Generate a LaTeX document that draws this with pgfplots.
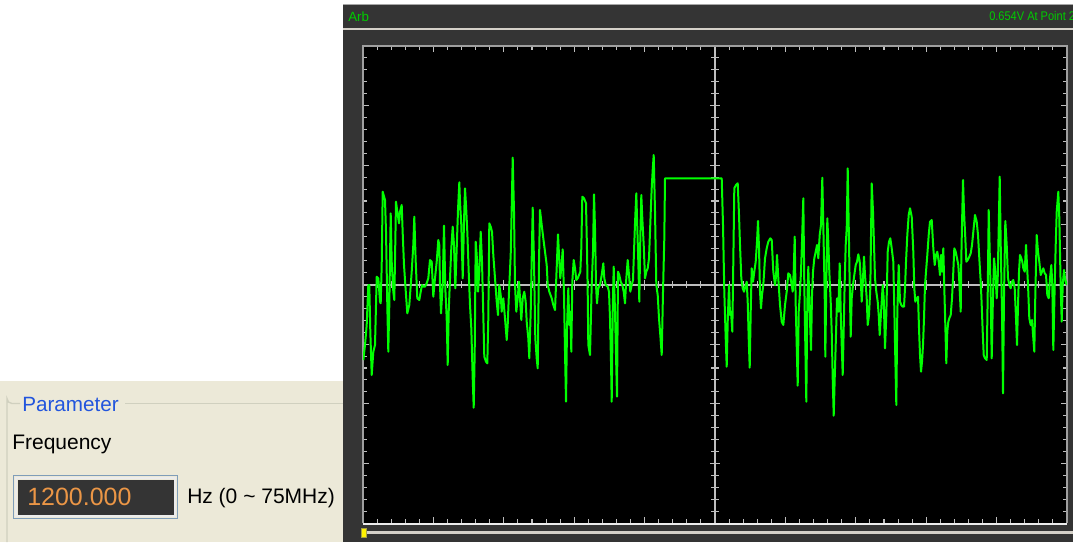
\documentclass[border=0pt]{standalone}
\usepackage{pgfplots}
\pgfplotsset{compat=1.18}
\usepackage{fontspec}
\setmainfont{Liberation Sans}
\definecolor{frame}{RGB}{52,52,52}
\definecolor{beige}{RGB}{236,233,216}
\definecolor{sep}{RGB}{212,208,200}
\definecolor{tickc}{RGB}{190,190,190}
\definecolor{wave}{RGB}{0,255,0}
\definecolor{hdr}{RGB}{0,205,0}
\definecolor{pblue}{RGB}{34,85,221}
\definecolor{boxblue}{RGB}{127,157,185}
\definecolor{orng}{RGB}{235,150,70}
\definecolor{gbox}{RGB}{208,208,191}
\pgfplotstableread{
x y
363.3 360
365 345
366.7 325
368.3 285
369.3 285
370.3 331.7
371.7 375
373.3 351.7
375 345
376.7 276.7
378.3 278.3
380 301.7
380.7 303.3
381.7 265
382.7 191.7
385 200
386 231.7
387.3 305
388.3 351.7
389.3 305
390.7 213.3
391.7 261.7
393.3 291.7
394.3 300
396 201.7
397.3 211.7
399 223.3
400 211.7
401.7 205
402.7 233.3
404 265
406 295
407.3 313.3
409.3 305
411.7 271.7
413.3 245
414.3 216.7
415.7 261.7
417.3 298.3
419.3 300
420.7 291.7
422 285
423.3 286.7
425 286.7
426.7 283.3
428.3 278.3
430 260
431.7 261.7
433.3 296.7
435 278.3
436.7 261.7
438.3 240
439.3 245
440 285
441 313.3
442.7 285
444 225.7
445.3 288.3
446.7 318.3
447.7 365
448.7 311.7
450 278.3
451.3 248.3
452.7 226.7
454 245
455.3 288.3
456.7 248.3
458 210
459.3 182.3
460 201.7
461.3 225
462.7 278.3
464 221.7
465 188.3
466 205
467.3 231.7
468.7 271.7
470 305
471.3 328.3
472.7 378.3
473.7 407.7
474.7 351.7
475.7 241.7
476.7 255
478 291.7
479.3 271.7
480.7 231.7
482 261.7
483.3 315
484.3 356.7
486 361.7
487.3 363.3
488.3 318.3
489.3 223.3
490.7 226.7
492 231.7
493.3 255
495 278.3
496.7 301.7
498 315
499.3 285
500.7 295
501.7 311.7
503.3 298.3
505 318.3
506.7 340
507.7 325
509 291.7
510.7 255
511.7 208.3
512.7 157.7
514 211.7
515 285
516.3 311.7
517.7 298.3
519 281.7
520 298.3
521.3 320
522.7 298.3
524.3 291.7
525.7 301.7
526.7 321.7
528.3 338.3
529.3 358.3
530.7 311.7
531.7 258.3
532.7 207.7
534 261.7
535.3 338.3
536.7 358.3
537.7 368.3
539 261.7
540 210
541.7 225
543.3 238.3
545 251.7
546.7 265
547.7 285
549.3 291.7
551.7 298.3
553.3 305
555 310
556 285
557 260
558 234.3
559 255
560.3 278.3
561.7 263.3
562.7 249.3
564 295
565 351.7
566 401.7
567 328.3
568.3 288.3
569.3 325
570.3 311.7
571.3 351.7
572.3 281.7
573.7 260
575 268.3
576.3 280
577.7 278.3
579 275
580.3 271.7
581.3 248.3
582.3 196.7
584 198.3
586 203.3
587 250
587.7 291.7
588.3 345
590 355
591.7 285
593 251.7
594 194.3
595 228.3
596 285
597 303.3
598.3 288.3
600 285
601.7 275
603.3 263.3
604.3 278.3
605.7 285
607.7 286.7
609 291.7
610 318.3
611 361.7
611.7 401.7
612.7 311.7
613.7 266.7
615 311.7
616 355
617 396.7
618 271.7
619.3 275
620.7 281.7
622.3 285
623.7 291.7
625 303.3
626.3 278.3
627.7 260
629 275
630.3 291.7
631.7 285
633 280
634 251.7
635 223.3
636.3 193.3
637.3 228.3
638.3 261.7
639.3 301.7
640.3 238.3
641.3 195
642.3 218.3
643.7 245
645 278.3
646.3 271.7
647.7 268.3
649 258.3
650 231.7
651 205
651.7 188.3
652.7 170
653.7 155
655 211.7
656.3 285
657.7 295
659 318.3
660.3 335
661.7 355
663 291.7
664.3 238.3
665 178.3
721.7 178.3
723 225
724.3 291.7
725.7 338.3
726.7 366.7
727.7 321.7
729 285
730 315
731 311.7
732.3 331.7
733.3 261.7
734.3 188.3
736 185
737.7 183.3
739 215
740 245
741.3 278.3
742.7 288.3
744 291.7
745.3 286.7
746.7 281.7
747.7 301.7
748.7 338.3
749.7 367.7
750.7 311.7
751.7 268.3
753 281.7
754.3 271.7
755.7 261.7
757 241.7
758 221
759 248.3
760 291.7
761 308.3
762 295
763.3 285
765 258.3
766.7 248.3
768.3 241.7
770.3 238.3
771.7 240
773.3 271.7
775 285
776 276.7
777 255
778.3 278.3
780 305
781.7 321.7
783.3 325
785 305
786.7 291.7
788.3 273.3
790 275
791.7 285
792.7 291.7
793.7 271.7
794.7 236.7
795.7 305
796.7 345
797.7 385.7
798.7 311.7
800 291.7
801 271.7
802 241.7
803.3 198.3
804.3 285
805.3 345
806.3 401.7
807.3 305
808.3 266.7
809.7 311.7
811 350
812 295
813 271.7
814.3 258.3
815.7 251.7
817 245
818.3 258.3
819.7 235
821 225
822.3 177.7
823.7 245
824.7 295
825.3 356.7
826.3 285
827.3 218.3
828.3 241.7
829.3 271.7
830.7 301.7
831.7 331.7
832.7 378.3
833.7 415.7
834.7 378.3
835.7 345
837 298.3
838.3 311.7
839.7 263.3
840.7 311.7
841.7 345
842.7 375
843.7 328.3
844.7 281.7
845.7 245
846.7 228.3
847.7 168.3
848.7 225
849.7 285
850.7 336.7
851.7 298.3
853 285
854.3 275
855.7 265
857 261.7
858.3 254.3
859.7 261.7
860.7 278.3
861.7 301.7
863 278.3
864 256.7
865 275
866.7 298.3
867.7 325
869 315
870.3 288.3
871.7 183.3
873 211.7
874 245
875 278.3
876.3 291.7
877.7 301.7
878.7 315
879.7 335
880.7 318.3
881.7 301.7
882.7 285
883.7 298.3
885 348.3
886.3 315
887.7 251.7
889 241.7
890.3 238.3
891.7 248.3
893.3 261.7
894.3 308.3
895.3 358.3
896.3 405
897.3 311.7
898.7 265
900 301.7
901.3 305
902.7 306.7
904 306.7
905 288.3
906 261.7
907.3 235
908.7 215
910 208.3
911.7 216.7
913.3 251.7
914.3 288.3
915.3 301.7
916.7 298.3
918 296.7
919 328.3
920 355
921 371.7
922 361.7
923 345
924 318.3
925 285
926 271.7
927.3 255
928.7 235
930 221.7
931.7 220
933.3 248.3
934.7 265
936 255
937.3 251.7
938.7 261.7
940 275
941 255
942 271.7
943.3 248.3
944.3 288.3
945.3 325
946.3 363.3
947.3 331.7
948.3 321.7
949.3 318.3
950.7 315
952 298.3
953 278.3
954.3 248.3
955.7 251.7
957 258.3
958.3 265
959.3 281.7
960.7 311.7
961.3 258.3
962 225
963 180
964 211.7
965.3 238.3
966.3 261.7
967.7 260
969.3 256.7
970.7 253.3
972 245
973.3 231.7
975 215
976.7 221.7
978 235
979.3 258.3
980.7 281.7
981.7 305
982.7 331.7
983.7 355
985 358.3
986.7 360
987.7 295
988.7 210
989.7 251.7
990.7 295
991.7 358.3
992.7 308.3
994 258.3
995.3 271.7
996.7 298.3
997.7 278.3
998.7 228.3
999.7 176.7
1000.7 245
1002 311.7
1003 393.3
1004 295
1005.3 221
1006.7 245
1008 278.3
1009.3 285
1010.7 288.3
1012 281.7
1013.3 280
1014.7 288.3
1016 318.3
1017 345
1018 305
1019 271.7
1020 255
1021.3 258.3
1022.3 261.7
1023.3 268.3
1024.7 271.7
1026 245
1027 265
1028 285
1029.3 318.3
1030.7 325
1032 320
1033.3 338.3
1034.3 351.7
1035.3 295
1036.7 235
1038 251.7
1039.3 261.7
1040.7 275
1042 271.7
1043.3 268.3
1044.7 273.3
1046 275
1047.3 295
1048.7 298.3
1050 278.3
1051.3 265
1052.3 285
1053.3 350
1054.7 285
1055.7 245
1056.7 211.7
1058.3 191.7
1059.3 218.3
1060.7 288.3
1061.7 321.7
1062.7 285
1064 270
1065 278.3
1066.7 285
}\wavetable
\begin{document}
\begin{tikzpicture}
\clip (0pt,0pt) rectangle (804.75pt,-406.5pt);
\begin{scope}[x=0.75pt,y=-0.75pt]
  % backgrounds
  \fill[white] (0,0) rectangle (1073,542);
  \fill[beige] (0,381) rectangle (343,542);
  \fill[frame] (343,4) rectangle (1073,542);
  \draw[gray!70, line width=1pt] (343,4.5) -- (1073,4.5);
  \draw[sep, line width=1.5pt] (343,29.5) -- (1073,29.5);
  % header texts
  \node[anchor=base west, inner sep=0pt, text=hdr, font=\fontsize{10pt}{12pt}\selectfont] at (348,21.5) {Arb};
  \node[anchor=base west, inner sep=0pt, text=hdr, font=\fontsize{9.4pt}{11pt}\selectfont, xscale=0.88] at (989,20.5) {0.654V At Point 2};
  % left panel
  \draw[gbox, line width=1pt] (343,403.5) -- (125,403.5);
  \draw[gbox, line width=1pt] (20,403.5) -- (12,403.5) arc[start angle=90, end angle=180, radius=5] -- (7,542);
  \node[anchor=base west, inner sep=0pt, text=pblue, font=\fontsize{15.5pt}{18pt}\selectfont] at (22,411.5) {Parameter};
  \node[anchor=base west, inner sep=0pt, text=black, font=\fontsize{15.75pt}{18pt}\selectfont] at (12,449) {Frequency};
  \draw[boxblue, line width=1.2pt] (13.5,475.5) rectangle (177.5,518.5);
  \draw[white!85!gray, line width=1.5pt] (16,478) rectangle (175,516);
  \fill[frame] (17.5,479.5) rectangle (173.5,514.5);
  \node[anchor=base west, inner sep=0pt, text=orng, font=\fontsize{18.75pt}{22pt}\selectfont] at (27,505) {1200.000};
  \node[anchor=base west, inner sep=0pt, text=black, font=\fontsize{15.75pt}{18pt}\selectfont] at (187,503) {Hz (0 \char`\~{} 75MHz)};
  % plot area
  \fill[black] (363,46) rectangle (1067,523);
  \draw[tickc, line width=1.5pt] (715,46) -- (715,523);
  \draw[tickc, line width=1.5pt] (363,284.5) -- (1067,284.5);
  \foreach \i in {1,...,49}{
    \pgfmathsetmacro\xx{363+14.08*\i}
    \pgfmathtruncatemacro\m{mod(\i,5)}
    \ifnum\m=0 \def\L{6}\def\C{5}\else\def\L{4}\def\C{3.5}\fi
    \draw[tickc, line width=0.8pt] (\xx,46) -- ++(0,\L);
    \draw[tickc, line width=0.8pt] (\xx,523) -- ++(0,-\L);
    \draw[tickc, line width=0.8pt] (\xx,284.5-\C) -- (\xx,284.5+\C);
  }
  \foreach \j in {1,...,39}{
    \pgfmathsetmacro\yy{46+11.925*\j}
    \pgfmathtruncatemacro\m{mod(\j,5)}
    \ifnum\m=0 \def\L{6}\def\C{5}\else\def\L{4}\def\C{4}\fi
    \draw[tickc, line width=0.8pt] (363,\yy) -- ++(\L,0);
    \draw[tickc, line width=0.8pt] (1067,\yy) -- ++(-\L,0);
    \draw[tickc, line width=0.8pt] (715-\C,\yy) -- (715+\C,\yy);
  }
  \draw[gray!75, line width=1.5pt] (363,523) -- (363,46) -- (1067,46) -- (1067,523);
  \draw[white!85!gray, line width=1.5pt] (363,523.5) -- (1067,523.5);
  % bottom bar
  \draw[sep, line width=1.8pt] (363,532.5) -- (1073,532.5);
  \filldraw[fill=yellow, draw=yellow!60!black, line width=0.6pt] (361,528) rectangle (366,537);
\end{scope}
\begin{axis}[
  at={(272.25pt,-34.5pt)}, anchor=north west,
  width=528pt, height=357.75pt, scale only axis,
  xmin=363, xmax=1067, ymin=46, ymax=523, y dir=reverse,
  hide axis, clip=true]
  \addplot[color=wave, line width=1.5pt, no marks, line join=round] table[x=x, y=y] {\wavetable};
\end{axis}
\end{tikzpicture}
\end{document}
